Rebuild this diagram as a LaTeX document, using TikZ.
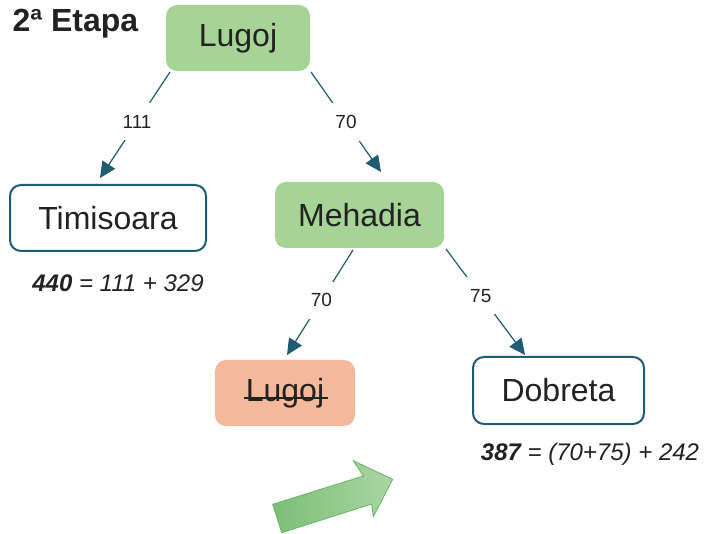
\documentclass[tikz,border=0pt]{standalone}
\usepackage{fontspec}
\setmainfont{Liberation Sans}
\usetikzlibrary{arrows.meta,calc}
\definecolor{edgec}{HTML}{1F5B73}
\definecolor{greenbox}{HTML}{A6D396}
\definecolor{salmon}{HTML}{F3B99A}
\definecolor{txt}{HTML}{222222}
\definecolor{arrA}{HTML}{7CBF78}
\definecolor{arrB}{HTML}{AAD6A2}
\definecolor{arrD}{HTML}{66B463}
\tikzset{
  box/.style={rounded corners=11pt, inner sep=0pt, text=txt,
    font=\fontsize{32}{36}\selectfont},
  greenn/.style={box, fill=greenbox},
  whiten/.style={box, fill=white, draw=edgec, line width=2pt},
  salmonn/.style={box, fill=salmon},
  conn/.style={draw=edgec, line width=1.2pt, -{Triangle[length=16pt,width=15pt]}},
  elabel/.style={fill=white, inner xsep=6pt, inner ysep=12pt, text=txt, font=\fontsize{19}{22}\selectfont},
  formula/.style={text=txt, font=\fontsize{24}{28}\selectfont\itshape}
}
\begin{document}
\begin{tikzpicture}[x=1pt,y=-1pt]
\useasboundingbox (0,0) rectangle (704,534);
\node[anchor=west, text=txt, font=\fontsize{32}{36}\selectfont\bfseries] (title) at (9,24) {2ª Etapa};
\node[greenn, minimum width=144pt, minimum height=66pt] (lug) at (238,38) {Lugoj};
\node[whiten, minimum width=196pt, minimum height=66pt] (tim) at (108,218) {Timisoara};
\node[greenn, minimum width=169pt, minimum height=66pt] (meh) at (359.5,215) {Mehadia};
\node[salmonn, minimum width=140pt, minimum height=66pt] (lug2) at (285,393) {Lugoj};
\node[whiten, minimum width=171pt, minimum height=67pt] (dob) at (558.5,390.5) {Dobreta};
\draw[txt, line width=1.8pt] ($(lug2.center)+(-41,5)$) -- ($(lug2.center)+(43,5)$);

\coordinate (e1s) at (170,72);  \coordinate (e1e) at (100,178);
\coordinate (e2s) at (311,72);  \coordinate (e2e) at (381,172);
\coordinate (e3s) at (353,250); \coordinate (e3e) at (287,355);
\coordinate (e4s) at (446,249); \coordinate (e4e) at (525,355);

\draw[conn] (e1s) -- node[elabel, pos=0.47] (l1) {111} (e1e);
\draw[conn] (e2s) -- node[elabel, pos=0.5] (l2) {70} (e2e);
\draw[conn] (e3s) -- node[elabel, pos=0.48] (l3) {70} (e3e);
\draw[conn] (e4s) -- node[elabel, pos=0.44] (l4) {75} (e4e);

\node[formula] (f1) at (118,283) {\textbf{440} = 111 + 329};
\node[formula] (f2) at (590,454) {\textbf{387} = (70+75) + 242};

\shade[left color=arrA, right color=arrB, draw=arrD, line width=0.8pt]
  (272.7,504.3) -- (363.3,476) -- (353.3,460.7) -- (392.7,479.3)
  -- (373.3,516.7) -- (371.7,504) -- (281.7,532.7) -- cycle;
\end{tikzpicture}
\end{document}
